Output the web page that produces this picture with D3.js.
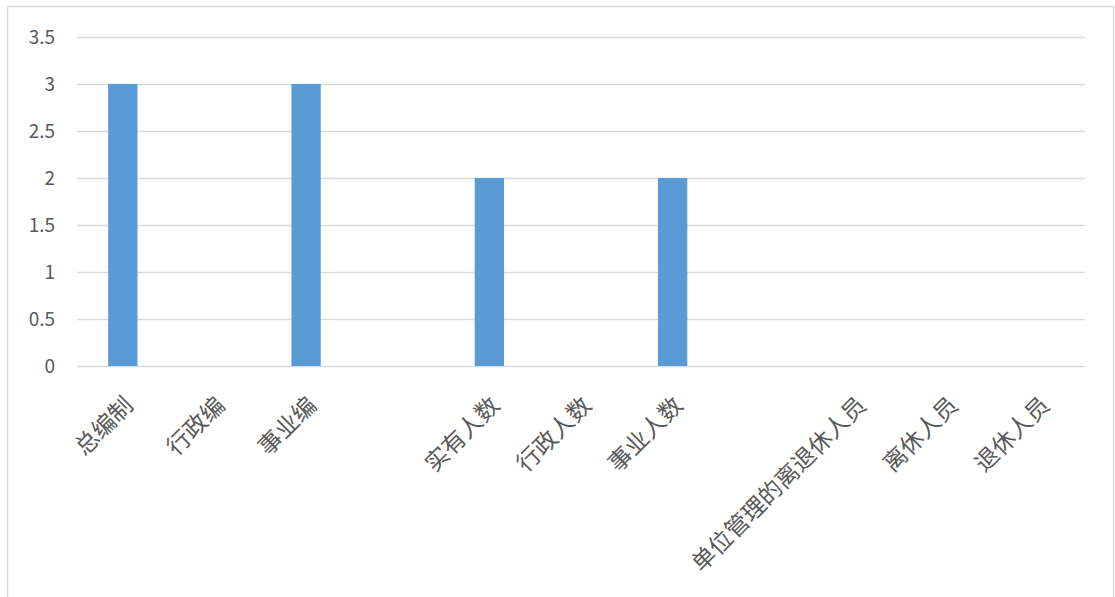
<!DOCTYPE html>
<html>
<head>
<meta charset="utf-8">
<script src="https://cdn.jsdelivr.net/npm/d3@7/dist/d3.min.js"></script>
<style>
  html, body { margin: 0; padding: 0; background: #fff; }
  svg { display: block; }
</style>
</head>
<body>
<svg id="chart" width="1115" height="597"></svg>
<script>
const categories = ["总编制", "行政编", "事业编", "", "实有人数", "行政人数", "事业人数", "", "单位管理的离退休人员", "离休人员", "退休人员"];
const values = [3, 0, 3, 0, 2, 0, 2, 0, 0, 0, 0];
const yTicks = [0, 0.5, 1, 1.5, 2, 2.5, 3, 3.5];
const yTickLabels = ["0", "0.5", "1", "1.5", "2", "2.5", "3", "3.5"];

const svg = d3.select("#chart");
const plot = { left: 77, right: 1085, top: 37, bottom: 366 };
const textColor = "#595959";
const gridColor = "#d9d9d9";
const barColor = "#5b9bd5";
const font = "'Noto Sans CJK SC', 'Noto Sans', sans-serif";

// chart border
svg.append("rect")
  .attr("x", 7.5).attr("y", 6.5)
  .attr("width", 1106).attr("height", 600)
  .attr("fill", "#fff").attr("stroke", gridColor).attr("stroke-width", 1.5);

const x = d3.scaleBand()
  .domain(d3.range(categories.length))
  .range([plot.left, plot.right])
  .paddingInner(0.68).paddingOuter(0.34);

const y = d3.scaleLinear().domain([0, 3.5]).range([plot.bottom, plot.top]);

// gridlines + y labels
const yAxis = d3.axisLeft(y)
  .tickValues(yTicks)
  .tickFormat((d, i) => yTickLabels[i])
  .tickSize(-(plot.right - plot.left))
  .tickPadding(22);

const gy = svg.append("g")
  .attr("transform", `translate(${plot.left},0)`)
  .call(yAxis);
gy.select(".domain").remove();
gy.selectAll(".tick line").attr("stroke", gridColor).attr("stroke-width", 1.6);
gy.selectAll(".tick text")
  .attr("fill", textColor)
  .style("font-family", font)
  .style("font-size", "19px");

// bars
svg.append("g").selectAll("rect")
  .data(values)
  .join("rect")
  .attr("x", (d, i) => x(i))
  .attr("y", d => y(d))
  .attr("width", x.bandwidth())
  .attr("height", d => y(0) - y(d))
  .attr("fill", barColor);

// x axis
const xAxis = d3.axisBottom(x)
  .tickFormat(i => categories[i])
  .tickSize(0)
  .tickPadding(0);
const gx = svg.append("g")
  .attr("transform", `translate(0,${plot.bottom})`)
  .call(xAxis);
gx.select(".domain").remove();
gx.selectAll(".tick text")
  .attr("fill", textColor)
  .style("font-family", font)
  .style("font-size", "23.5px")
  .attr("text-anchor", "end")
  .attr("dy", "0.35em")
  .attr("y", 0)
  .attr("transform", "translate(6,35) rotate(-45)");
</script>
</body>
</html>
